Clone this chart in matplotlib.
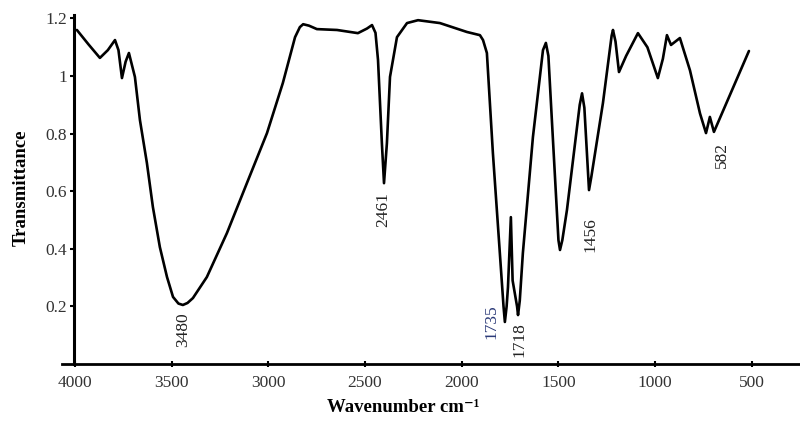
import matplotlib
matplotlib.use("Agg")
import matplotlib.pyplot as plt

# FTIR spectrum
wavenumber = [3990, 3930, 3871, 3830, 3793, 3775, 3757, 3738, 3721, 3690,
              3664, 3628, 3597, 3561, 3524, 3493, 3465, 3442, 3418, 3390,
              3318, 3214, 3111, 3007, 2925, 2862, 2837, 2820, 2790, 2749,
              2645, 2537, 2490, 2464, 2446, 2433, 2413, 2402, 2387, 2371,
              2335, 2283, 2226, 2113, 1973, 1906, 1890, 1870, 1839, 1803,
              1784, 1777, 1768, 1761, 1746, 1737, 1714, 1709, 1700, 1684,
              1632, 1580, 1565, 1552, 1534, 1500, 1492, 1480, 1456, 1390,
              1378, 1366, 1342, 1330, 1270, 1225, 1218, 1205, 1187, 1150,
              1089, 1040, 986, 960, 939, 918, 872, 820, 768, 737,
              717, 696, 515]
transmittance = [1.16, 1.11, 1.063, 1.09, 1.125, 1.09, 0.993, 1.05, 1.08, 0.997,
                 0.847, 0.698, 0.545, 0.406, 0.302, 0.233, 0.21, 0.205, 0.212, 0.229,
                 0.302, 0.455, 0.628, 0.802, 0.976, 1.135, 1.17, 1.18, 1.175, 1.163,
                 1.16, 1.149, 1.165, 1.177, 1.15, 1.056, 0.767, 0.628, 0.767, 0.997,
                 1.135, 1.184, 1.194, 1.184, 1.153, 1.142, 1.125, 1.08, 0.733, 0.385,
                 0.2, 0.146, 0.2, 0.267, 0.51, 0.29, 0.2, 0.17, 0.22, 0.385,
                 0.788, 1.09, 1.115, 1.07, 0.847, 0.43, 0.396, 0.43, 0.535, 0.9,
                 0.94, 0.89, 0.604, 0.65, 0.906, 1.14, 1.16, 1.12, 1.014, 1.07,
                 1.149, 1.1, 0.993, 1.06, 1.142, 1.108, 1.132, 1.02, 0.87, 0.802,
                 0.858, 0.806, 1.087]

peak_labels = ["3480", "2461", "1735", "1718", "1456", "582"]
label_x = [3442, 2407, 1844, 1704, 1332, 655]
label_y = [0.118, 0.535, 0.146, 0.083, 0.451, 0.726]
label_colors = ["#222222", "#222222", "#2b3a78", "#222222", "#222222", "#222222"]

xticks = [4000, 3500, 3000, 2500, 2000, 1500, 1000, 500]
yticks = [0.2, 0.4, 0.6, 0.8, 1.0, 1.2]
ytick_labels = ["0.2", "0.4", "0.6", "0.8", "1", "1.2"]

serif = ["Liberation Serif", "DejaVu Serif"]
plt.rcParams["font.family"] = serif

fig = plt.figure(figsize=(8, 4.25), dpi=100)
ax = fig.add_axes([0.0775, 0.1435, 0.9225, 0.8212])

ax.plot(wavenumber, transmittance, color="black", lw=1.9,
        solid_joinstyle="round", solid_capstyle="round")

for txt, x, y, c in zip(peak_labels, label_x, label_y, label_colors):
    ax.text(x, y, txt, rotation=90, ha="center", va="center",
            fontsize=12.5, color=c)

ax.set_xlim(4067, 251)
ax.set_ylim(0, 1.212)
ax.spines["left"].set_position(("data", 4005))
ax.spines["top"].set_visible(False)
ax.spines["right"].set_visible(False)
ax.spines["left"].set_linewidth(2.2)
ax.spines["bottom"].set_linewidth(2.0)

ax.set_xticks(xticks)
ax.set_yticks(yticks)
ax.set_yticklabels(ytick_labels)
ax.tick_params(axis="x", direction="inout", length=4, width=1.5,
               labelsize=12.5, pad=6, colors="black", labelcolor="#333333")
ax.tick_params(axis="y", direction="out", length=3, width=1.5,
               labelsize=12.5, pad=2, labelcolor="#333333")

fig.text(0.027, 0.558, "Transmittance", rotation=90, ha="center", va="center",
         fontsize=13.5, fontweight="bold")
fig.text(0.504, 0.04, "Wavenumber cm\u207b\u00b9", ha="center", va="center",
         fontsize=13.5, fontweight="bold")

fig.savefig("out.png", dpi=100)
